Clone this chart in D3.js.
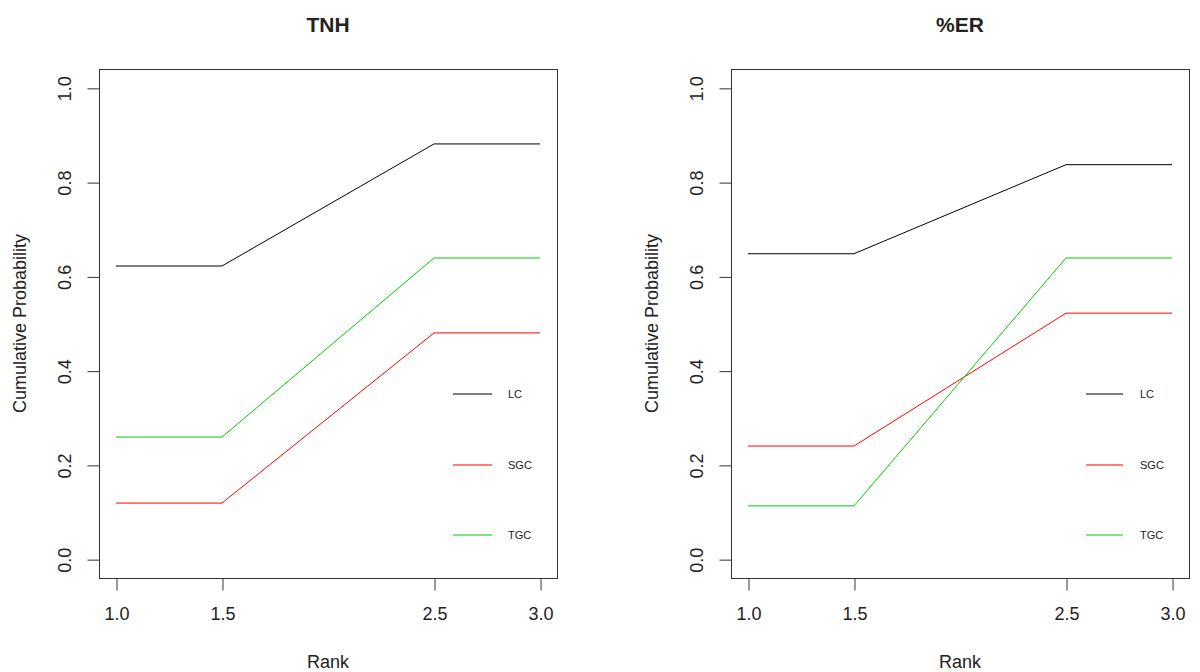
<!DOCTYPE html>
<html>
<head>
<meta charset="utf-8">
<script src="https://cdn.jsdelivr.net/npm/d3@7"></script>
<style>
  body { margin: 0; background: #fff; }
  svg text { font-family: "Liberation Sans", Arial, sans-serif; fill: #222; }
</style>
</head>
<body>
<svg id="chart" width="1200" height="672"></svg>
<script>
const ranks = [1.0, 1.5, 2.5, 3.0];
const xTicks = [1.0, 1.5, 2.5, 3.0];
const yTicks = [0.0, 0.2, 0.4, 0.6, 0.8, 1.0];
const seriesNames = ["LC", "SGC", "TGC"];
const seriesColors = ["#000000", "#ff0000", "#00cd00"];
const panelTitles = ["TNH", "%ER"];

const tnhLC  = [0.622, 0.622, 0.881, 0.881];
const tnhSGC = [0.119, 0.119, 0.480, 0.480];
const tnhTGC = [0.259, 0.259, 0.639, 0.639];

const erLC  = [0.648, 0.648, 0.837, 0.837];
const erSGC = [0.240, 0.240, 0.522, 0.522];
const erTGC = [0.113, 0.113, 0.639, 0.639];

const panelData = [
  [tnhLC, tnhSGC, tnhTGC],
  [erLC, erSGC, erTGC]
];

const svg = d3.select("#chart");
const panels = [
  { left: 99, right: 557, top: 69, bottom: 578, legX1: 453, legX2: 492, legText: 508 },
  { left: 731, right: 1189, top: 69, bottom: 578, legX1: 1086, legX2: 1123, legText: 1140 }
];
const legendYs = [394, 465, 535];

panels.forEach((p, pi) => {
  const g = svg.append("g");
  const w = p.right - p.left;
  const h = p.bottom - p.top;
  const x = d3.scaleLinear().domain([0.92, 3.08]).range([p.left, p.right]);
  const y = d3.scaleLinear().domain([-0.04, 1.04]).range([p.bottom, p.top]);

  // box
  g.append("rect").attr("x", p.left + 0.5).attr("y", p.top + 0.5)
    .attr("width", w).attr("height", h)
    .attr("fill", "none").attr("stroke", "#333").attr("stroke-width", 1);

  // x axis
  const xAxis = d3.axisBottom(x).tickValues(xTicks).tickSize(12).tickPadding(17)
    .tickFormat(d3.format(".1f"));
  const xg = g.append("g").attr("transform", `translate(0.5,${p.bottom + 0.5})`).call(xAxis);
  xg.select(".domain").remove();
  xg.selectAll("line").attr("stroke", "#333");
  xg.selectAll("text").attr("font-size", 18).attr("fill", "#222")
    .attr("font-family", "Liberation Sans, Arial, sans-serif");

  // y axis
  const yAxis = d3.axisLeft(y).tickValues(yTicks).tickSize(12).tickFormat(d3.format(".1f"));
  const yg = g.append("g").attr("transform", `translate(${p.left + 0.5},0.5)`).call(yAxis);
  yg.select(".domain").remove();
  yg.selectAll("line").attr("stroke", "#333");
  yg.selectAll("text")
    .attr("font-size", 18).attr("fill", "#222")
    .attr("font-family", "Liberation Sans, Arial, sans-serif")
    .attr("x", null).attr("dy", null)
    .attr("text-anchor", "middle")
    .attr("transform", "translate(-35,0) rotate(-90)")
    .attr("dy", "0.35em");

  // series lines
  const line = d3.line().x((d, i) => x(ranks[i])).y(d => y(d));
  panelData[pi].forEach((vals, si) => {
    g.append("path").datum(vals)
      .attr("d", line)
      .attr("fill", "none")
      .attr("stroke", seriesColors[si])
      .attr("stroke-width", 1);
  });

  // legend
  const leg = g.append("g").attr("class", "legend");
  const items = leg.selectAll("g.item")
    .data(seriesNames.map((name, si) => ({ name, color: seriesColors[si], yPos: legendYs[si] })))
    .join("g").attr("class", "item")
    .attr("transform", d => `translate(0,${d.yPos})`);
  items.append("line")
    .attr("x1", p.legX1).attr("x2", p.legX2)
    .attr("y1", 0).attr("y2", 0)
    .style("stroke", d => d.color).attr("stroke-width", 1.2);
  items.append("text").attr("x", p.legText).attr("y", 0)
    .attr("dy", "0.4em").attr("font-size", 11).text(d => d.name);

  // title
  g.append("text").attr("x", (p.left + p.right) / 2).attr("y", 32)
    .attr("text-anchor", "middle").attr("font-size", 21).attr("font-weight", "bold")
    .attr("fill", "#000").text(panelTitles[pi]);

  // x label
  g.append("text").attr("x", (p.left + p.right) / 2).attr("y", 668)
    .attr("text-anchor", "middle").attr("font-size", 18).text("Rank");

  // y label
  g.append("text")
    .attr("transform", `translate(${p.left - 73},${(p.top + p.bottom) / 2}) rotate(-90)`)
    .attr("text-anchor", "middle").attr("font-size", 18).text("Cumulative Probability");
});
</script>
</body>
</html>
